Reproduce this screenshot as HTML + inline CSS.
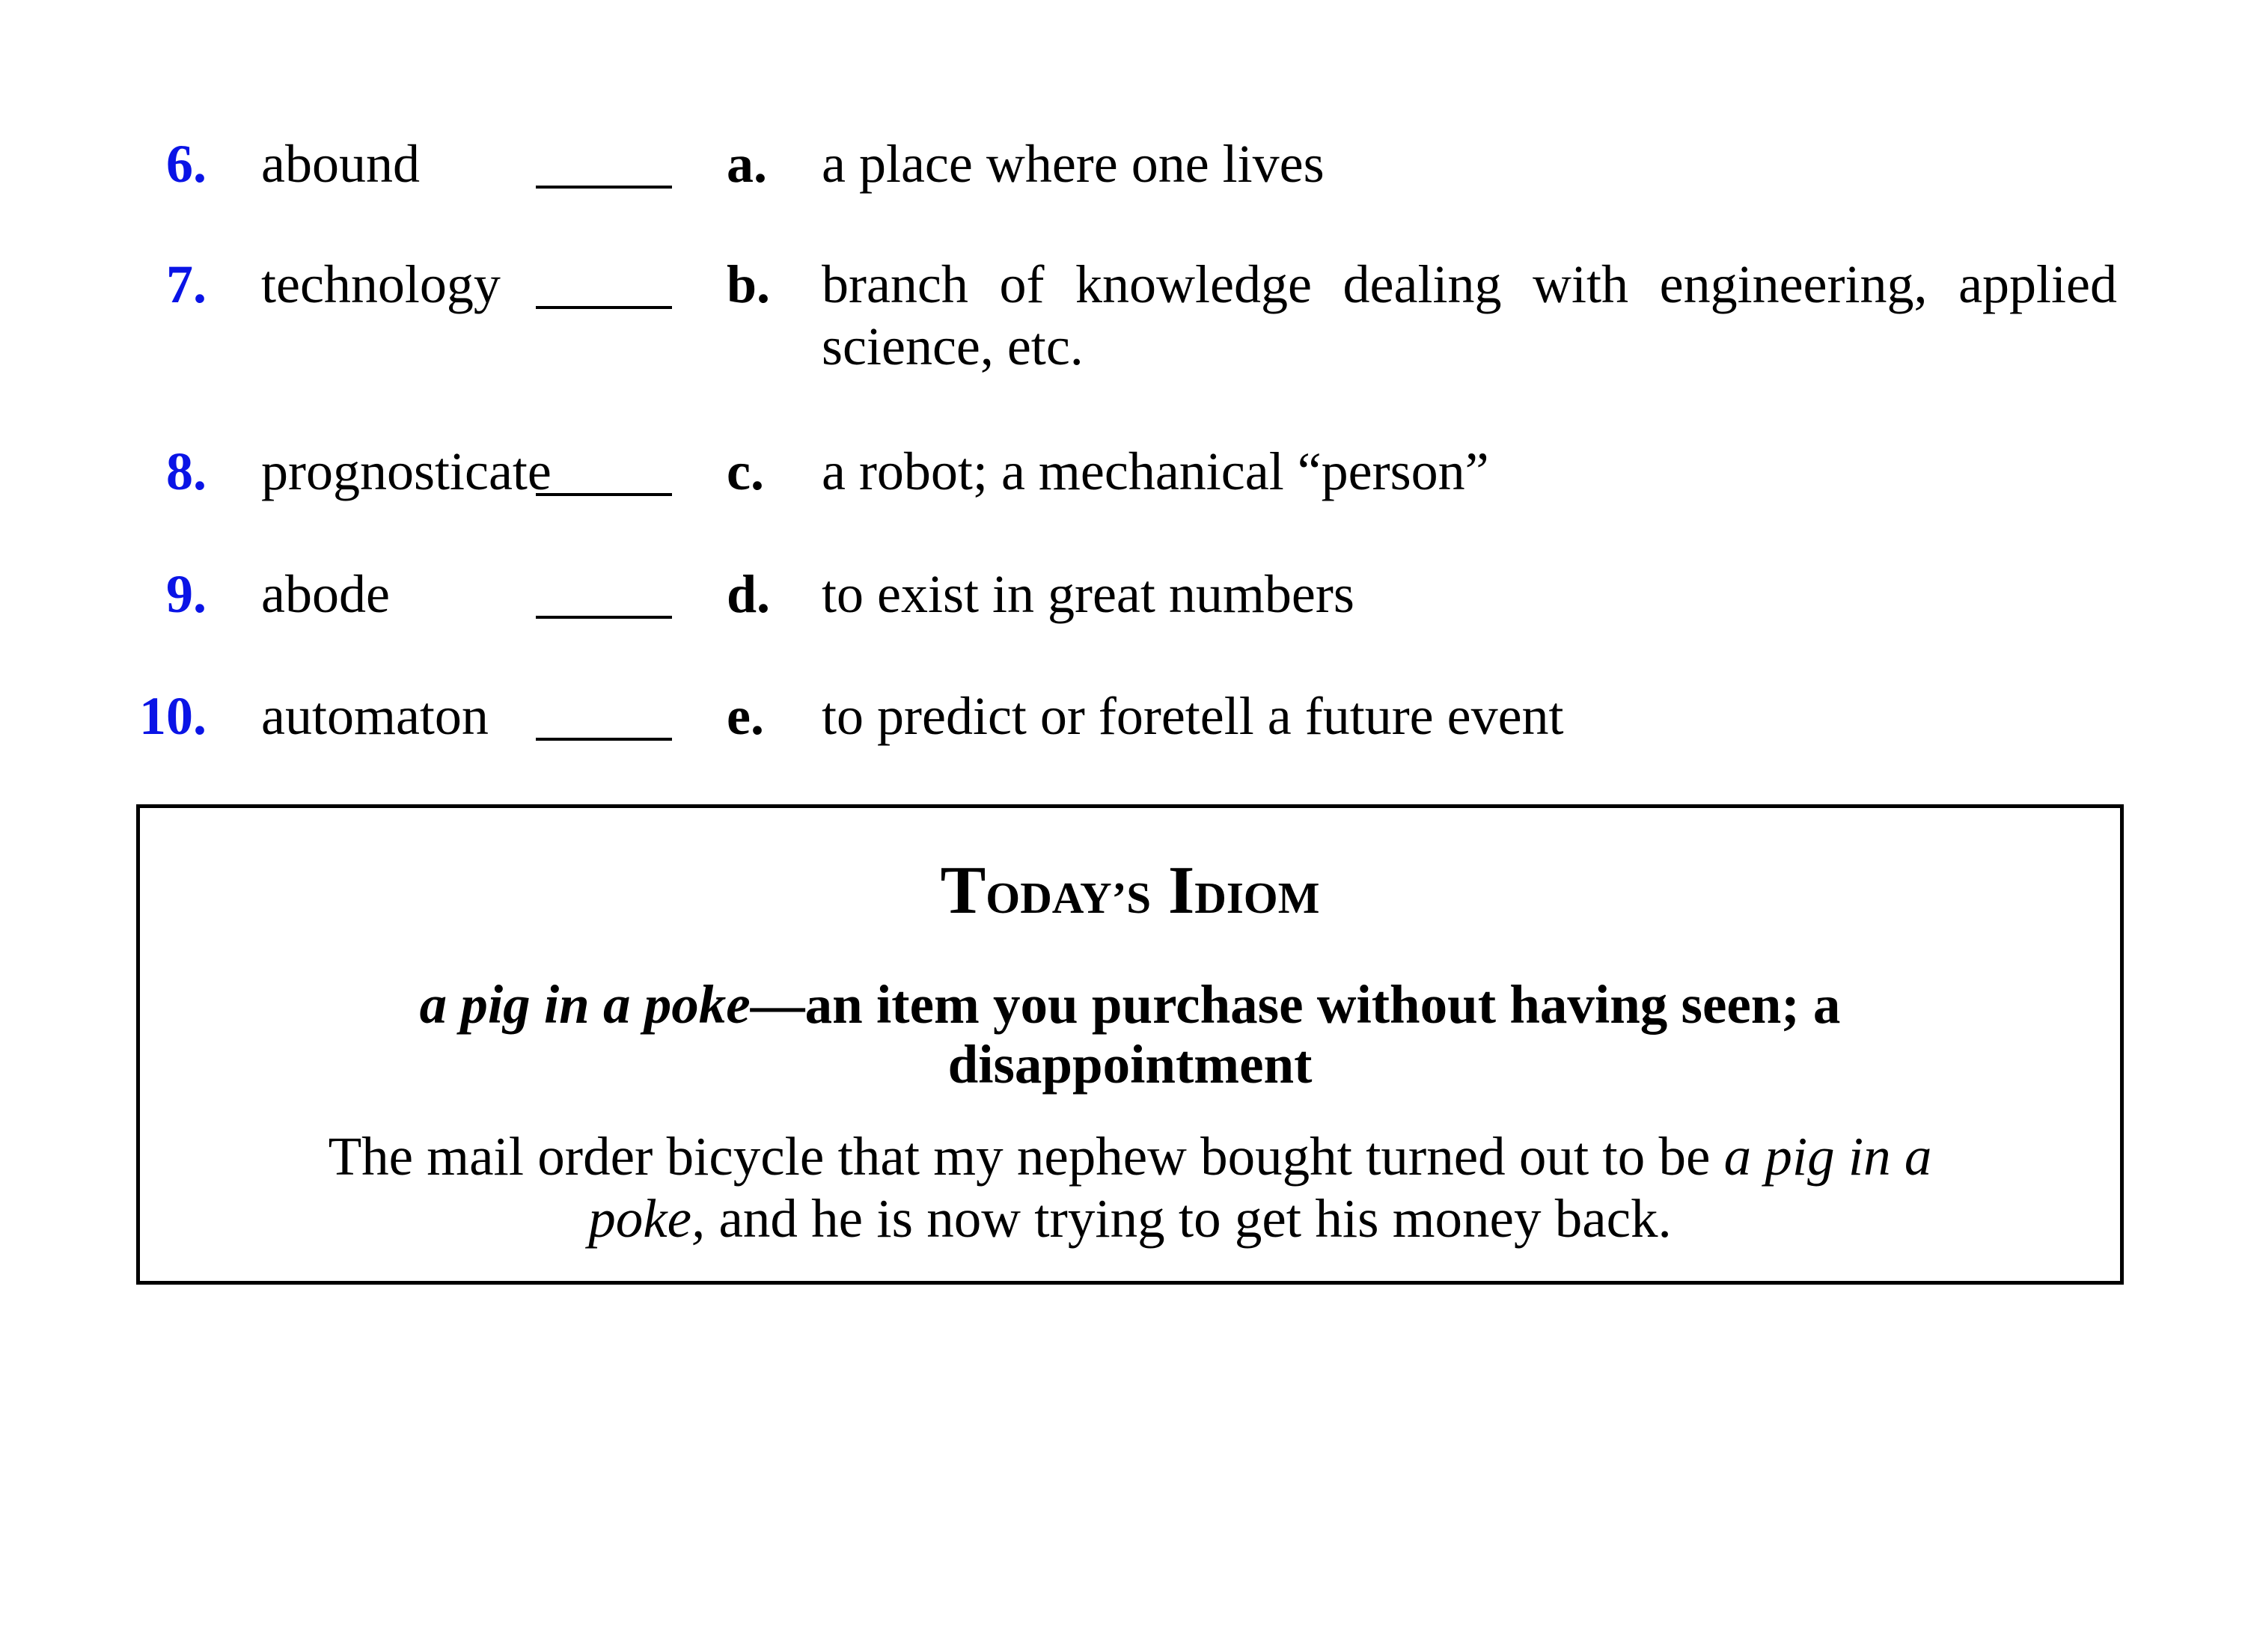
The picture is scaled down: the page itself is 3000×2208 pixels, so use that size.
<!DOCTYPE html>
<html><head><meta charset="utf-8"><style>
body{margin:0;width:3000px;height:2208px;background:#fff;position:relative;overflow:hidden;font-family:"Liberation Serif",serif;color:#000}
.a{position:absolute;white-space:nowrap;font-size:72px;line-height:83px}
.n{color:#0a14e6;font-weight:bold;text-align:right;width:200px;left:76px}
.w{left:349px}
.l{font-weight:bold;left:971px}
.d{left:1098px}
.bl{position:absolute;left:716px;width:182px;height:4px;background:#000}
.box{position:absolute;left:182px;top:1075px;width:2646px;height:632px;border:5px solid #000}
.c{position:absolute;left:182px;width:2656px;text-align:center;white-space:nowrap}
</style></head><body>
<div class="a n" style="top:178px">6.</div><div class="a w" style="top:178px">abound</div><div class="bl" style="top:248px"></div><div class="a l" style="top:178px">a.</div><div class="a d" style="top:178px">a place where one lives</div>
<div class="a n" style="top:339px">7.</div><div class="a w" style="top:339px">technology</div><div class="bl" style="top:409px"></div><div class="a l" style="top:339px">b.</div><div class="a d" style="top:339px;width:1744px;white-space:normal;text-align:justify;text-align-last:justify;width:1731px">branch of knowledge dealing with engineering, applied</div><div class="a d" style="top:422px">science, etc.</div>
<div class="a n" style="top:589px">8.</div><div class="a w" style="top:589px">prognosticate</div><div class="bl" style="top:659px"></div><div class="a l" style="top:589px">c.</div><div class="a d" style="top:589px">a robot; a mechanical “person”</div>
<div class="a n" style="top:753px">9.</div><div class="a w" style="top:753px">abode</div><div class="bl" style="top:823px"></div><div class="a l" style="top:753px">d.</div><div class="a d" style="top:753px">to exist in great numbers</div>
<div class="a n" style="top:916px">10.</div><div class="a w" style="top:916px">automaton</div><div class="bl" style="top:986px"></div><div class="a l" style="top:916px">e.</div><div class="a d" style="top:916px">to predict or foretell a future event</div>
<div class="box"></div>
<div class="c" style="top:1132px;font-size:91px;line-height:116px;font-weight:bold">T<span style="font-size:59px">ODAY’S</span> I<span style="font-size:59px">DIOM</span></div>
<div class="c" style="top:1303px;font-size:73px;line-height:80px;font-weight:bold"><i>a pig in a poke</i>—an item you purchase without having seen; a<br>disappointment</div>
<div class="c" style="top:1504px;font-size:73px;line-height:83px"><span>The mail order bicycle that my nephew bought turned out to be <i>a pig in a</i></span><br><i>poke,</i> and he is now trying to get his money back.</div>
</body></html>
